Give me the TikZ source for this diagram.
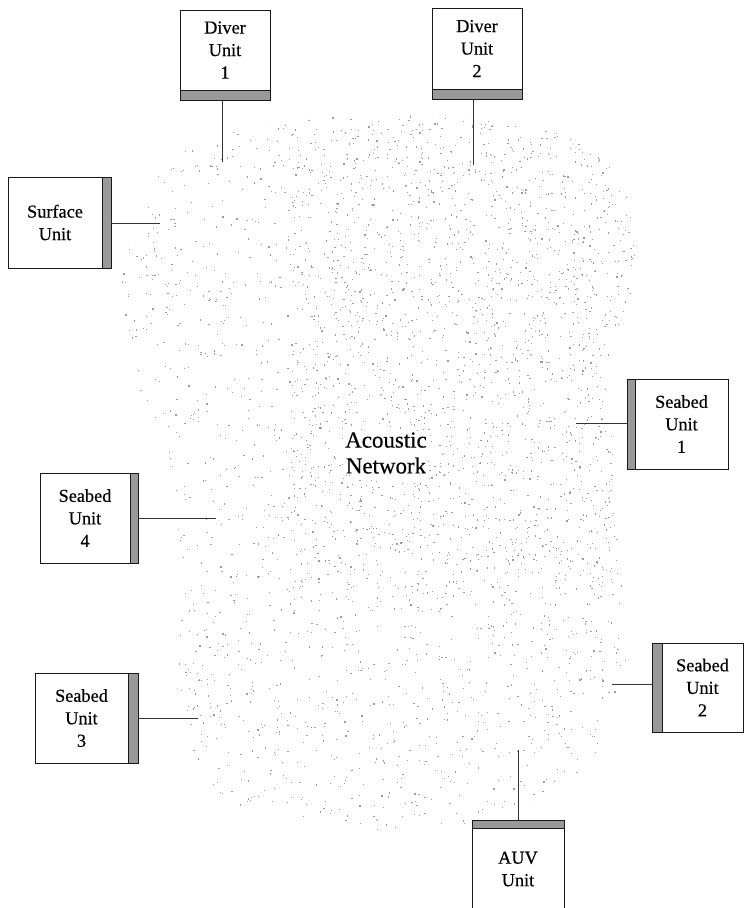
\documentclass[tikz,border=0pt]{standalone}
\usepackage{fontspec}
\setmainfont{Liberation Serif}[FakeBold=0.4]
\usetikzlibrary{positioning}

\tikzset{
  unit/.style={draw=black!90, line width=0.5pt, fill=white, align=center, inner sep=0pt, outer sep=0pt, font=\fontsize{13}{16}\selectfont},
  band/.style={draw=black!90, line width=0.5pt, fill=black!40, inner sep=0pt, outer sep=0pt},
  link/.style={line width=0.6pt, black!80},
  dot/.style={black!38},
}

\begin{document}
\begin{tikzpicture}[x=0.025cm, y=-0.025cm, node distance=0pt]
        \clip (0,0) rectangle (744,908);

        % Stippled cloud of the acoustic network
        \begin{scope}
          \clip plot[smooth cycle, tension=0.6] coordinates {
            (300,120) (420,116) (540,128) (600,158) (628,200) (634,280)
            (614,340) (606,380) (612,440) (616,520) (624,600) (628,660)
            (610,720) (590,760) (540,800) (480,822) (380,830) (290,822)
            (230,800) (195,760) (178,700) (180,620) (182,560) (168,470)
            (150,420) (135,370) (122,300) (130,240) (155,180) (200,140)};
          \pgfmathsetseed{4711}
          \foreach \k in {1,...,2600} {
            \pgfmathsetmacro\dx{120+516*rnd}
            \pgfmathsetmacro\dy{114+718*rnd}
            \fill[dot] (\dx,\dy) rectangle ++(1.2,1.2);
          }
          % denser upper right part
          \foreach \k in {1,...,1300} {
            \pgfmathsetmacro\dx{290+346*rnd}
            \pgfmathsetmacro\dy{114+480*rnd}
            \fill[dot] (\dx,\dy) rectangle ++(1.2,1.2);
          }
        \end{scope}

        \node[fill=white, inner sep=1pt, align=center, font=\fontsize{16.3}{18.4}\selectfont] (net) at (386,453) {Acoustic\\Network};

        % Units with their transducer strips
        \node[unit, minimum width=2.25cm, minimum height=2cm] (du1) at (225,50) {Diver\\Unit\\1};
        \node[band, minimum width=2.25cm, minimum height=0.25cm, below=of du1] (du1s) {};

        \node[unit, minimum width=2.25cm, minimum height=2.025cm] (du2) at (477,48.5) {Diver\\Unit\\2};
        \node[band, minimum width=2.25cm, minimum height=0.25cm, below=of du2] (du2s) {};

        \node[unit, minimum width=2.35cm, minimum height=2.275cm] (su) at (55,222.5) {Surface\\Unit};
        \node[band, minimum width=0.225cm, minimum height=2.275cm, right=of su] (sus) {};

        \node[unit, minimum width=2.325cm, minimum height=2.25cm] (sb1) at (681.5,424) {Seabed\\Unit\\1};
        \node[band, minimum width=0.2cm, minimum height=2.25cm, left=of sb1] (sb1s) {};

        \node[unit, minimum width=2.25cm, minimum height=2.25cm] (sb4) at (85,518) {Seabed\\Unit\\4};
        \node[band, minimum width=0.2cm, minimum height=2.25cm, right=of sb4] (sb4s) {};

        \node[unit, minimum width=2.325cm, minimum height=2.25cm] (sb3) at (81.5,718) {Seabed\\Unit\\3};
        \node[band, minimum width=0.25cm, minimum height=2.25cm, right=of sb3] (sb3s) {};

        \node[unit, minimum width=2.025cm, minimum height=2.225cm] (sb2) at (702.5,687.5) {Seabed\\Unit\\2};
        \node[band, minimum width=0.25cm, minimum height=2.225cm, left=of sb2] (sb2s) {};

        \node[unit, minimum width=2.3cm, minimum height=2.05cm] (auv) at (518,869) {AUV\\Unit};
        \node[band, minimum width=2.3cm, minimum height=0.2cm, above=of auv] (auvs) {};

        % Links into the network
        \coordinate (du1c) at (222,162);
        \coordinate (du2c) at (473,165);
        \coordinate (suc) at (160,223);
        \coordinate (sb1c) at (576,423);
        \coordinate (sb4c) at (216,518);
        \coordinate (sb3c) at (198,718);
        \coordinate (sb2c) at (612,684);
        \coordinate (auvc) at (518,750);

        \draw[link] (du1s.south -| du1c) -- (du1c);
        \draw[link] (du2s.south -| du2c) -- (du2c);
        \draw[link] (sus.east |- suc) -- (suc);
        \draw[link] (sb1s.west |- sb1c) -- (sb1c);
        \draw[link] (sb4s.east |- sb4c) -- (sb4c);
        \draw[link] (sb3s.east |- sb3c) -- (sb3c);
        \draw[link] (sb2s.west |- sb2c) -- (sb2c);
        \draw[link] (auvs.north -| auvc) -- (auvc);
    \end{tikzpicture}
\end{document}
